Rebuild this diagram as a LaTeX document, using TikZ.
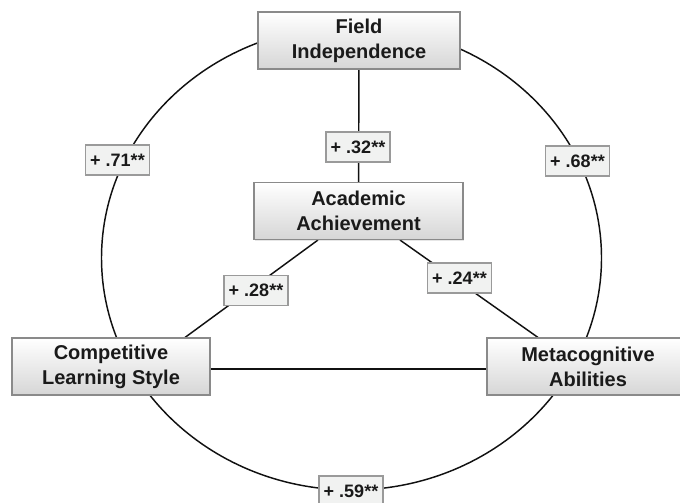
\documentclass[tikz,border=0pt]{standalone}
\usepackage{fontspec}
\setmainfont{Liberation Sans}
\usetikzlibrary{shadows,backgrounds}
\definecolor{boxborder}{HTML}{8A8A8A}
\definecolor{boxbottom}{HTML}{D6D6D6}
\definecolor{labelborder}{HTML}{9A9A9A}
\definecolor{labelfill}{HTML}{F1F2F1}
\definecolor{textcol}{HTML}{1A1A1A}
\definecolor{linecol}{HTML}{111111}
\begin{document}
\begin{tikzpicture}[x=0.75pt,y=-0.75pt,
  concept/.style={draw=boxborder, line width=0.8pt, top color=white, bottom color=boxbottom,
    minimum height=42.75pt, align=center, inner sep=0pt, text=textcol,
    font=\fontsize{15}{18.75}\selectfont\bfseries,
    drop shadow={opacity=0.2, shadow xshift=0.6pt, shadow yshift=-0.9pt}},
  coef/.style={draw=labelborder, line width=0.8pt, fill=labelfill, minimum width=48pt,
    minimum height=22.5pt, inner sep=0pt, text=textcol,
    font=\fontsize{13.5}{15}\selectfont\bfseries},
  link/.style={line width=1.1pt, draw=linecol}
]
\useasboundingbox (0,0) rectangle (680,502);

\node[concept, minimum width=151.5pt] (F) at (359,40.5) {Field\\Independence};
\node[concept, minimum width=156.75pt] (A) at (358.5,211) {Academic\\Achievement};
\node[concept, minimum width=148.5pt] (C) at (111,366.5) {Competitive\\Learning Style};
\node[concept, minimum width=151.5pt] (M) at (588,366.5) {Metacognitive\\Abilities};

\node[coef] (l32) at (358,147) {+ .32**};
\node[coef] (l71) at (117.5,160) {+ .71**};
\node[coef] (l68) at (577.5,161) {+ .68**};
\node[coef] (l28) at (256,290.5) {+ .28**};
\node[coef] (l24) at (459.5,278) {+ .24**};
\node[coef] (l59) at (351,491) {+ .59**};

\begin{scope}[on background layer]
  \draw[link] (351.5,258) ellipse [x radius=187.5pt, y radius=174pt];
  \draw[link] (F) -- (A);
  \draw[link] ([xshift=-30.4pt]A.south) -- ([xshift=55.5pt]C.north);
  \draw[link] ([xshift=31.1pt]A.south) -- ([xshift=-37.5pt]M.north);
  \draw[link] ([yshift=-1.9pt]C.east) -- ([yshift=-1.9pt]M.west);
\end{scope}
\end{tikzpicture}
\end{document}
